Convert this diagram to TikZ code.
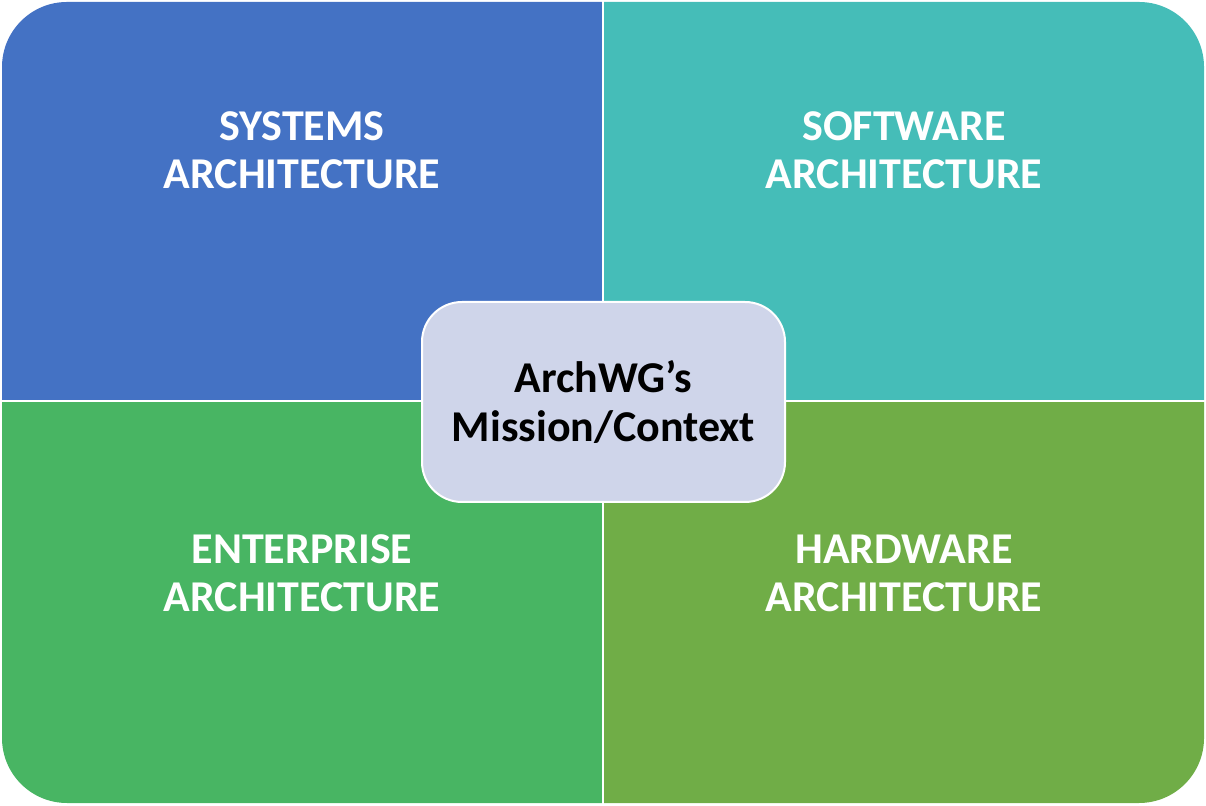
\documentclass[tikz,border=0pt]{standalone}
\usepackage{fontspec}
\setmainfont{Carlito}
\definecolor{qblue}{HTML}{4472C4}
\definecolor{qteal}{HTML}{45BDB8}
\definecolor{qgreen}{HTML}{48B563}
\definecolor{qolive}{HTML}{70AD47}
\definecolor{cfill}{HTML}{CFD5EA}
\tikzset{
  quadlabel/.style={text=white, font=\bfseries\fontsize{44}{48}\selectfont, align=center},
  centerbox/.style={fill=cfill, draw=white, line width=2pt, rounded corners=40pt,
    minimum width=363pt, minimum height=200pt, inner sep=0pt,
    font=\bfseries\fontsize{44}{49}\selectfont, align=center, text=black}
}
\begin{document}
\begin{tikzpicture}[x=1pt,y=1pt]
\useasboundingbox (0,0) rectangle (1206,805);
\begin{scope}
  \clip[rounded corners=65pt] (2,2) rectangle (1204,803);
  \fill[qblue] (0,405) rectangle (602,805);
  \fill[qteal] (604,405) rectangle (1206,805);
  \fill[qgreen] (0,0) rectangle (602,403);
  \fill[qolive] (604,0) rectangle (1206,403);
\end{scope}
\node[quadlabel] (sys) at (302,655) {SYSTEMS\\ARCHITECTURE};
\node[quadlabel] (soft) at (904,655) {SOFTWARE\\ARCHITECTURE};
\node[quadlabel] (ent) at (302,232) {ENTERPRISE\\ARCHITECTURE};
\node[quadlabel] (hard) at (904,232) {HARDWARE\\ARCHITECTURE};
\node[centerbox] (ctr) at (603.5,403) {ArchWG’s\\Mission/Context};
\end{tikzpicture}
\end{document}
